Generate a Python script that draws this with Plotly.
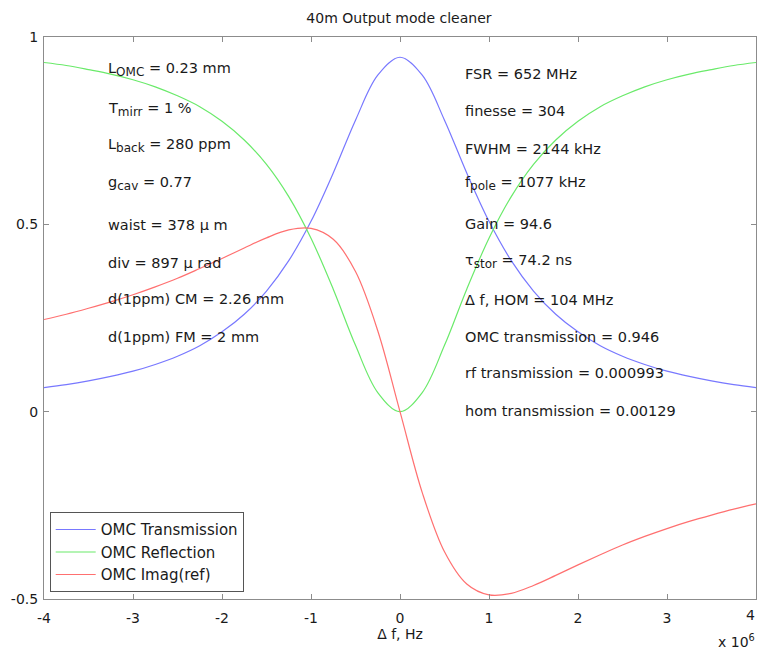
import plotly.graph_objects as go

# frequency offset, units of 10^6 Hz
freq = [-4.0, -3.75, -3.5, -3.25, -3.0, -2.75, -2.5, -2.25, -2.0, -1.75, -1.5, -1.25, -1.0,
        -0.75, -0.5, -0.25, 0.0, 0.25, 0.5, 0.75, 1.0, 1.25, 1.5, 1.75, 2.0, 2.25, 2.5,
        2.75, 3.0, 3.25, 3.5, 3.75, 4.0]

transmission = [0.064, 0.072, 0.082, 0.094, 0.108, 0.126, 0.148, 0.176, 0.213, 0.260, 0.322,
                0.403, 0.508, 0.637, 0.778, 0.898, 0.946, 0.898, 0.778, 0.637, 0.508, 0.403,
                0.322, 0.260, 0.213, 0.176, 0.148, 0.126, 0.108, 0.094, 0.082, 0.072, 0.064]

reflection = [0.932, 0.924, 0.913, 0.901, 0.886, 0.867, 0.843, 0.814, 0.775, 0.725, 0.660,
              0.574, 0.463, 0.327, 0.177, 0.051, 0.0, 0.051, 0.177, 0.327, 0.463, 0.574,
              0.660, 0.725, 0.775, 0.814, 0.843, 0.867, 0.886, 0.901, 0.913, 0.924, 0.932]

imag_ref = [0.246, 0.260, 0.276, 0.293, 0.312, 0.333, 0.356, 0.382, 0.409, 0.437, 0.464,
            0.485, 0.489, 0.460, 0.374, 0.216, 0.0, -0.216, -0.374, -0.460, -0.489, -0.485,
            -0.464, -0.437, -0.409, -0.382, -0.356, -0.333, -0.312, -0.293, -0.276, -0.260, -0.246]

series_names = ["OMC Transmission", "OMC Reflection", "OMC Imag(ref)"]
series_colors = ["#7878ff", "#6aea6a", "#ff7070"]

x_ticks = [-4, -3, -2, -1, 0, 1, 2, 3, 4]
x_tick_text = ["-4", "-3", "-2", "-1", "0", "1", "2", "3", ""]
last_x_label = "4"
y_ticks = [-0.5, 0, 0.5, 1]
y_tick_text = ["-0.5", "0", "0.5", "1"]

SUB = "<sub><span style='font-size:12px'>{}</span></sub>"
left_notes = ["L" + SUB.format("OMC") + " = 0.23 mm", "T" + SUB.format("mirr") + " = 1 %",
              "L" + SUB.format("back") + " = 280 ppm", "g" + SUB.format("cav") + " = 0.77",
              "waist = 378 \u03bc m", "div = 897 \u03bc rad",
              "d(1ppm) CM = 2.26 mm", "d(1ppm) FM = 2 mm"]
left_note_y = [0.913, 0.807, 0.711, 0.610, 0.497, 0.398, 0.302, 0.200]

right_notes = ["FSR = 652 MHz", "finesse = 304", "FWHM = 2144 kHz",
               "f" + SUB.format("pole") + " = 1077 kHz",
               "Gain = 94.6", "\u03c4" + SUB.format("stor") + " = 74.2 ns", "\u0394 f, HOM = 104 MHz",
               "OMC transmission = 0.946", "rf transmission = 0.000993", "hom transmission = 0.00129"]
right_note_y = [0.901, 0.802, 0.701, 0.610, 0.500, 0.401, 0.297, 0.200, 0.102, 0.001]

FONT = "DejaVu Sans, Liberation Sans, Arial, sans-serif"
TXT = "#1a1a1a"

fig = go.Figure()
for name, ys, col in zip(series_names, [transmission, reflection, imag_ref], series_colors):
    fig.add_trace(go.Scatter(x=freq, y=ys, mode="lines", name=name,
                             line=dict(color=col, width=1.2, shape="spline", smoothing=1.0)))

annotations = []
for t, y in zip(left_notes, left_note_y):
    annotations.append(dict(x=-3.3, y=y, xref="x", yref="y", text=t, showarrow=False,
                            xanchor="left", yanchor="middle", font=dict(size=14.5, color=TXT, family=FONT)))
for t, y in zip(right_notes, right_note_y):
    annotations.append(dict(x=0.71, y=y, xref="x", yref="y", text=t, showarrow=False,
                            xanchor="left", yanchor="middle", font=dict(size=14.5, color=TXT, family=FONT)))
# last x tick label, which sits on the right edge of the page
annotations.append(dict(x=1.0, y=0, xref="paper", yref="paper", xshift=1, yshift=-16, text=last_x_label,
                        showarrow=False, xanchor="right", yanchor="middle",
                        font=dict(size=14, color=TXT, family=FONT)))
annotations.append(dict(x=1.0, y=0, xref="paper", yref="paper", xshift=1, yshift=-42,
                        text="x 10<sup>6</sup>", showarrow=False, xanchor="right", yanchor="middle",
                        font=dict(size=14, color=TXT, family=FONT)))

axis_common = dict(showline=True, linecolor="#8c8c8c", linewidth=1, mirror="ticks",
                   ticks="inside", ticklen=5, tickcolor="#8c8c8c", showgrid=False, zeroline=False,
                   tickfont=dict(size=14, color=TXT, family=FONT))

fig.update_layout(
    width=757, height=655,
    margin=dict(l=44, r=1, t=37, b=56),
    paper_bgcolor="white", plot_bgcolor="white",
    title=dict(text="40m Output mode cleaner", x=0.527, xanchor="center", y=0.972, yanchor="middle",
               font=dict(size=14, color=TXT, family=FONT)),
    xaxis=dict(range=[-4, 4], tickvals=x_ticks, ticktext=x_tick_text, ticklabelstandoff=6,
               title=dict(text="\u0394 f, Hz", font=dict(size=14, color=TXT, family=FONT), standoff=2),
               **axis_common),
    yaxis=dict(range=[-0.5, 1], tickvals=y_ticks, ticktext=y_tick_text, ticklabelstandoff=2,
               **axis_common),
    legend=dict(x=0.008, y=0.012, xanchor="left", yanchor="bottom", bgcolor="white",
                bordercolor="#555555", borderwidth=1, font=dict(size=15, color=TXT, family=FONT),
                tracegroupgap=0, itemwidth=40),
    annotations=annotations,
    showlegend=True,
)

fig.write_html("out.html")
